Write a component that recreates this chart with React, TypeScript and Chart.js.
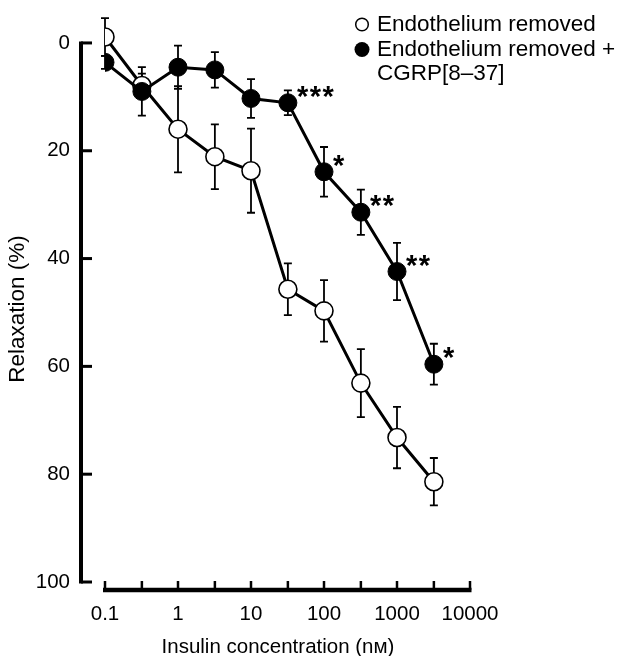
import React, { useEffect, useRef } from "react";
import { Chart, registerables } from "chart.js";

Chart.register(...registerables);

// Insulin concentration (nM), half-log steps
const concentrations = [0.1, 0.32, 1, 3.2, 10, 32, 100, 320, 1000, 3200];
// Endothelium removed
const removedMean = [-1.1, 7.9, 16.0, 21.1, 23.7, 45.7, 49.7, 63.1, 73.2, 81.4];
const removedSem = [3.5, 2.2, 8.0, 6.0, 7.8, 4.8, 5.7, 6.3, 5.7, 4.4];
// Endothelium removed + CGRP[8-37]
const cgrpMean = [3.6, 9.0, 4.5, 5.0, 10.3, 11.1, 23.9, 31.4, 42.4, 59.6];
const cgrpSem = [1.2, 4.5, 4.0, 3.3, 3.6, 2.3, 4.6, 4.2, 5.3, 3.8];
const significance = ["", "", "", "", "", "***", "*", "**", "**", "*"];

const yTicks = [0, 20, 40, 60, 80, 100];
const xMajorTicks = [0.1, 1, 10, 100, 1000, 10000];
const xMajorLabels = ["0.1", "1", "10", "100", "1000", "10000"];
const xMinorTicks = [0.32, 3.2, 32, 320, 3200];

const seriesLabels = ["Endothelium removed", "Endothelium removed +", "CGRP[8–37]"];
const xTitle = "Insulin concentration (nᴍ)";
const yTitle = "Relaxation (%)";

const FONT = '"Liberation Sans", Arial, "DejaVu Sans", sans-serif';

const decorPlugin = {
  id: "decor",
  beforeDatasetsDraw(chart: any) {
    const ctx = chart.ctx;
    const xs = chart.scales.x;
    const ys = chart.scales.y;
    ctx.save();
    ctx.strokeStyle = "#000";
    ctx.lineWidth = 1.8;
    const drawBars = (means: number[], sems: number[]) => {
      means.forEach((m, i) => {
        const x = xs.getPixelForValue(concentrations[i]);
        const y1 = ys.getPixelForValue(m - sems[i]);
        const y2 = ys.getPixelForValue(m + sems[i]);
        ctx.beginPath();
        ctx.moveTo(x, y1);
        ctx.lineTo(x, y2);
        ctx.moveTo(x - 4, y1);
        ctx.lineTo(x + 4, y1);
        ctx.moveTo(x - 4, y2);
        ctx.lineTo(x + 4, y2);
        ctx.stroke();
      });
    };
    drawBars(removedMean, removedSem);
    drawBars(cgrpMean, cgrpSem);
    ctx.restore();
  },
  afterDraw(chart: any) {
    const ctx = chart.ctx;
    const xs = chart.scales.x;
    const ys = chart.scales.y;
    ctx.save();
    ctx.strokeStyle = "#000";
    ctx.fillStyle = "#000";

    // Y axis
    const axisX = 81;
    ctx.lineWidth = 4;
    ctx.beginPath();
    ctx.moveTo(axisX, ys.getPixelForValue(0) - 1.5);
    ctx.lineTo(axisX, ys.getPixelForValue(100) + 1.5);
    ctx.stroke();
    ctx.lineWidth = 3;
    yTicks.forEach((t) => {
      const y = ys.getPixelForValue(t);
      ctx.beginPath();
      ctx.moveTo(axisX, y);
      ctx.lineTo(axisX + 11, y);
      ctx.stroke();
    });
    ctx.font = `20.5px ${FONT}`;
    ctx.textAlign = "right";
    ctx.textBaseline = "middle";
    yTicks.forEach((t) => {
      ctx.fillText(String(t), 70, ys.getPixelForValue(t));
    });

    // X axis
    const axisY = 590;
    ctx.lineWidth = 4.5;
    ctx.beginPath();
    ctx.moveTo(103, axisY);
    ctx.lineTo(xs.getPixelForValue(10000) + 1.5, axisY);
    ctx.stroke();
    ctx.lineWidth = 2.5;
    [...xMajorTicks, ...xMinorTicks].forEach((t) => {
      const x = xs.getPixelForValue(t);
      ctx.beginPath();
      ctx.moveTo(x, axisY);
      ctx.lineTo(x, axisY - 9);
      ctx.stroke();
    });
    ctx.textAlign = "center";
    xMajorTicks.forEach((t, i) => {
      ctx.fillText(xMajorLabels[i], xs.getPixelForValue(t), 614);
    });

    // Axis titles
    ctx.font = `20.5px ${FONT}`;
    ctx.textBaseline = "alphabetic";
    ctx.fillText(xTitle, 278, 653);
    ctx.save();
    ctx.translate(24, 309);
    ctx.rotate(-Math.PI / 2);
    ctx.font = `22.5px ${FONT}`;
    ctx.fillText(yTitle, 0, 0);
    ctx.restore();

    // Significance marks
    ctx.font = `bold 29px ${FONT}`;
    ctx.textAlign = "left";
    ctx.textBaseline = "alphabetic";
    (ctx as any).letterSpacing = "1.5px";
    significance.forEach((s, i) => {
      if (!s) return;
      const x = xs.getPixelForValue(concentrations[i]);
      const y = ys.getPixelForValue(cgrpMean[i]);
      ctx.fillText(s, x + 9, y + 3);
    });
    (ctx as any).letterSpacing = "0px";

    // Legend
    ctx.lineWidth = 1.5;
    ctx.beginPath();
    ctx.arc(362, 24.5, 6.3, 0, Math.PI * 2);
    ctx.fillStyle = "#fff";
    ctx.fill();
    ctx.stroke();
    ctx.fillStyle = "#000";
    ctx.beginPath();
    ctx.arc(362, 49.5, 7.5, 0, Math.PI * 2);
    ctx.fill();
    ctx.font = `22.5px ${FONT}`;
    ctx.textBaseline = "middle";
    ctx.fillText(seriesLabels[0], 377, 25);
    ctx.fillText(seriesLabels[1], 377, 50);
    ctx.fillText(seriesLabels[2], 377, 74);
    ctx.restore();
  },
};

export default function App() {
  const canvasRef = useRef<HTMLCanvasElement | null>(null);

  useEffect(() => {
    document.body.style.margin = "0";
    const canvas = canvasRef.current;
    if (!canvas) return;
    const chart = new Chart(canvas, {
      type: "line",
      data: {
        datasets: [
          {
            label: seriesLabels[0],
            data: concentrations.map((c, i) => ({ x: c, y: removedMean[i] })),
            borderColor: "#000",
            borderWidth: 3,
            backgroundColor: "#fff",
            pointBackgroundColor: "#fff",
            pointBorderColor: "#000",
            pointBorderWidth: 1.6,
            pointRadius: 9,
            tension: 0,
            order: 2,
          },
          {
            label: seriesLabels[1] + " " + seriesLabels[2],
            data: concentrations.map((c, i) => ({ x: c, y: cgrpMean[i] })),
            borderColor: "#000",
            borderWidth: 3,
            backgroundColor: "#000",
            pointBackgroundColor: "#000",
            pointBorderColor: "#000",
            pointBorderWidth: 1,
            pointRadius: 9,
            tension: 0,
            order: 1,
          },
        ],
      },
      options: {
        responsive: false,
        animation: false,
        layout: { padding: { left: 105, right: 149, top: 4, bottom: 74 } },
        plugins: { legend: { display: false }, tooltip: { enabled: false } },
        scales: {
          x: { type: "logarithmic", min: 0.1, max: 10000, display: false },
          y: { type: "linear", reverse: true, min: -6, max: 100, display: false },
        },
      },
      plugins: [decorPlugin],
    });
    return () => chart.destroy();
  }, []);

  return (
    <div style={{ width: 619, height: 656, background: "#fff" }}>
      <canvas ref={canvasRef} width={619} height={656} style={{ display: "block" }} />
    </div>
  );
}
